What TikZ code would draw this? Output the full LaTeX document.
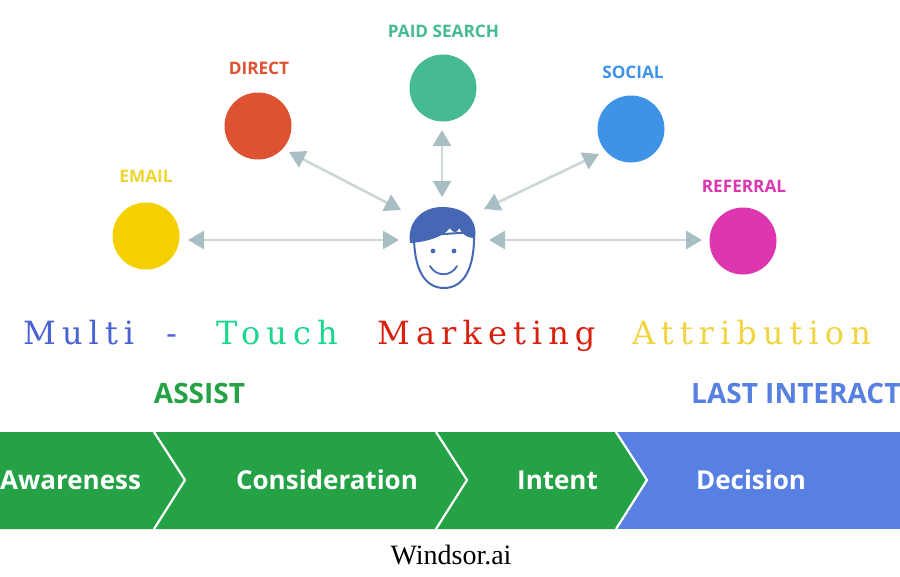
\documentclass[tikz,border=0pt]{standalone}
\usepackage{fontspec}
\setmainfont{Liberation Serif}
\newfontfamily\labelfont{Open Sans}
\newfontfamily\spacedfont[LetterSpace=19]{DejaVu Serif}
\usetikzlibrary{arrows.meta}
\definecolor{cmail}{HTML}{F5D000}
\definecolor{cmailtxt}{HTML}{EFD62E}
\definecolor{cdirect}{HTML}{DD5230}
\definecolor{cpaid}{HTML}{45BA94}
\definecolor{csocial}{HTML}{3F93E6}
\definecolor{cref}{HTML}{DD36AE}
\definecolor{cgreen}{HTML}{25A146}
\definecolor{cblue}{HTML}{5880E2}
\definecolor{chair}{HTML}{4668B4}
\definecolor{cline}{HTML}{CDD6D8}
\definecolor{chead}{HTML}{A9BEC2}
\definecolor{tblue}{HTML}{4A63D2}
\definecolor{tgreen}{HTML}{1BD68F}
\definecolor{tred}{HTML}{D9200F}
\definecolor{tyellow}{HTML}{F2D440}
\tikzset{
  x=1pt,y=-1pt,
  dot/.style={circle,inner sep=0pt,minimum size=67pt},
  lab/.style={font=\labelfont\bfseries\fontsize{17.2}{19}\selectfont,inner sep=0pt},
  stagelab/.style={font=\labelfont\bfseries\fontsize{26}{30}\selectfont,text=white,inner sep=0pt},
  headlab/.style={font=\labelfont\bfseries\fontsize{28}{30}\selectfont,inner sep=0pt},
  word/.style={font=\spacedfont\fontsize{32}{38}\selectfont,inner sep=0pt,anchor=base west},
  link/.style={line width=2.6pt,draw=cline,
    {Triangle[length=16pt,width=18pt,color=chead]}-{Triangle[length=16pt,width=18pt,color=chead]}},
  sep/.style={draw=white,line width=2.2pt,line join=round},
}
\begin{document}
\begin{tikzpicture}
\useasboundingbox (0,0) rectangle (900,576);
\fill[white] (0,0) rectangle (900,576);
% channels
\node[dot,fill=cmail] (email) at (146,236) {};
\node[dot,fill=cdirect] (direct) at (258,126) {};
\node[dot,fill=cpaid] (paid) at (443,88) {};
\node[dot,fill=csocial] (social) at (631,129) {};
\node[dot,fill=cref] (referral) at (743,241) {};
\node[lab,text=cmailtxt] (lemail) at (146,176) {EMAIL};
\node[lab,text=cdirect] (ldirect) at (259,68) {DIRECT};
\node[lab,text=cpaid] (lpaid) at (443.5,31) {PAID SEARCH};
\node[lab,text=csocial] (lsocial) at (633,72) {SOCIAL};
\node[lab,text=cref] (lref) at (744,186) {REFERRAL};
% person
\coordinate (uleft) at (399,240);
\coordinate (uright) at (489,240);
\coordinate (utop) at (442,197);
\coordinate (ulefttop) at (401,210);
\coordinate (urighttop) at (484,209);
\coordinate (eleft) at (188,240);
\coordinate (erefr) at (702,240);
\coordinate (ptop) at (442,130);
\coordinate (dend) at (289,152);
\coordinate (send) at (599,154);
\draw[chair,line width=2pt,fill=white] (414,236) .. controls (414,268) and (424,288) .. (444,288) .. controls (464,288) and (475,268) .. (474,232) -- cycle;
\fill[chair] (410,243) .. controls (407,222) and (422,207) .. (442,207) .. controls (463,207) and (478,218) .. (475,238) .. controls (470,238) and (464,237) .. (459,228) .. controls (458,233) and (453,234) .. (450,228) .. controls (442,238) and (425,242) .. (410,243) -- cycle;
\fill[chair] (433,251) circle (2.4pt) (454,251) circle (2.4pt);
\draw[chair,line width=1.8pt,line cap=round] (430,266) .. controls (436,277) and (451,277) .. (457,266);
% links
\draw[link] (eleft) -- (uleft);
\draw[link] (dend) -- (ulefttop);
\draw[link] (ptop) -- (utop);
\draw[link] (send) -- (urighttop);
\draw[link] (uright) -- (erefr);
% title
\node[word,text=tblue] (t1) at (23,344) {Multi};
\node[word,text=tblue] (t2) at (166,344) {-};
\node[word,text=tgreen] (t3) at (216,344) {Touch};
\node[word,text=tred] (t4) at (377,344) {Marketing};
\node[word,text=tyellow] (t5) at (632,344) {Attribution};
% headers
\node[headlab,text=cgreen] (assist) at (199.5,393) {ASSIST};
\node[headlab,text=cblue,anchor=west] (last) at (691,393) {LAST INTERACT};
% band
\fill[cblue] (610,432) rectangle (900,529);
\fill[cgreen] (0,432) -- (616,432) -- (646,480) -- (616,529) -- (0,529) -- cycle;
\draw[sep] (154,432) -- (185,480) -- (154,529);
\draw[sep] (436,432) -- (467,480) -- (436,529);
\draw[sep] (616,432) -- (647,480) -- (616,529);
\node[stagelab,anchor=west] (aw) at (0,480) {Awareness};
\node[stagelab] (co) at (327,480) {Consideration};
\node[stagelab] (in) at (557.5,480) {Intent};
\node[stagelab] (de) at (751,480) {Decision};
\node[font=\fontsize{28}{30}\selectfont,inner sep=0pt] (src) at (451,555) {Windsor.ai};
\end{tikzpicture}
\end{document}
